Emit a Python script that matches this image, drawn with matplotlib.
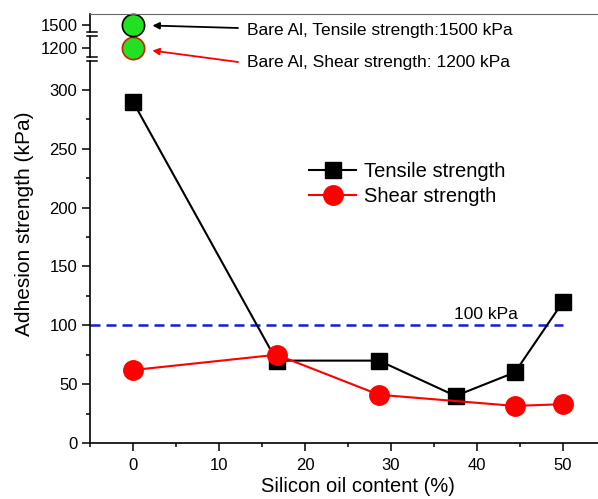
import matplotlib
matplotlib.use('Agg')
import matplotlib.pyplot as plt
from matplotlib.lines import Line2D
from matplotlib.ticker import MultipleLocator

plt.rcParams['font.family'] = ['Liberation Sans', 'DejaVu Sans']

# data
oil = [0, 16.7, 28.6, 37.5, 44.4, 50]
tensile = [290, 70, 70, 40, 60, 120]
oil_shear = [0, 16.7, 28.6, 44.4, 50]
shear = [62, 75, 41, 31.5, 33]
bare_x = 0
bare_tensile = 1500
bare_shear = 1200
limit = 100

W, H = 598, 499
fig = plt.figure(figsize=(W / 100, H / 100), dpi=100)


def box(top, bottom):
    # axes rect from pixel rows (measured from the top)
    return [90 / W, (H - bottom) / H, 516 / W, (bottom - top) / H]


ax = fig.add_axes(box(61, 443))
ax_mid = fig.add_axes(box(36, 57), sharex=ax)
ax_top = fig.add_axes(box(14, 32), sharex=ax)
for a in (ax, ax_mid, ax_top):
    a.patch.set_alpha(0)

ax.set_xlim(-5, 55)
ax.set_ylim(0, 324.6)
ax_mid.set_ylim(1110, 1320)
ax_top.set_ylim(1430, 1610)

# main series
ax.plot(oil, tensile, color='k', marker='s', ms=12, lw=1.5,
        label='Tensile strength', zorder=3)
ax.plot(oil_shear, shear, color='red', marker='o', ms=14, lw=1.5,
        label='Shear strength', zorder=4)
ax.hlines(limit, -5, 50, colors='#1a1ad8', linestyles=(0, (4, 2.4)), lw=1.8, zorder=2)
ax.text(37.3, limit + 3, '100 kPa', fontsize=12.5, va='bottom')

# bare Al points on the broken part of the axis
ax_top.plot([bare_x], [bare_tensile], 'o', ms=16, mfc='#22e022', mec='k',
            mew=1.2, clip_on=False)
ax_mid.plot([bare_x], [bare_shear], 'o', ms=16, mfc='#22e022', mec='#d02000',
            mew=1.2, clip_on=False)

ax_top.annotate('', xy=(bare_x, bare_tensile), xytext=(238 / W, 1 - 28 / H),
                textcoords='figure fraction', annotation_clip=False,
                arrowprops=dict(arrowstyle='-|>', color='k', lw=1.3,
                                mutation_scale=10, shrinkA=0, shrinkB=14))
ax_mid.annotate('', xy=(bare_x, bare_shear), xytext=(238 / W, 1 - 62 / H),
                textcoords='figure fraction', annotation_clip=False,
                arrowprops=dict(arrowstyle='-|>', color='red', lw=1.3,
                                mutation_scale=10, shrinkA=0, shrinkB=14))
fig.text(247 / W, 1 - 31 / H, 'Bare Al, Tensile strength:1500 kPa', fontsize=12.5, va='center')
fig.text(247 / W, 1 - 62 / H, 'Bare Al, Shear strength: 1200 kPa', fontsize=12.5, va='center')

# spines and ticks
ax.spines[['top', 'right']].set_visible(False)
ax_mid.spines[['top', 'right', 'bottom']].set_visible(False)
ax_top.spines[['right', 'bottom']].set_visible(False)
ax_top.spines['top'].set_color('#666666')
for a in (ax, ax_mid, ax_top):
    a.spines['left'].set_linewidth(1.2)
ax.spines['bottom'].set_linewidth(1.2)

ax.set_xticks(range(0, 51, 10))
ax.xaxis.set_minor_locator(MultipleLocator(5))
ax.set_yticks(range(0, 301, 50))
ax.yaxis.set_minor_locator(MultipleLocator(25))
ax.tick_params(which='major', direction='out', length=6, width=1.1, labelsize=12, pad=3)
ax.tick_params(which='minor', direction='out', length=3, width=1.1)
ax.tick_params(axis='x', which='major', pad=5)

ax_mid.set_yticks([bare_shear])
ax_top.set_yticks([bare_tensile])
for a in (ax_mid, ax_top):
    a.tick_params(axis='y', direction='out', length=6, width=1.1, labelsize=12, pad=3)
    a.tick_params(axis='x', which='both', bottom=False, top=False, labelbottom=False)

# break marks on the left axis
for y in (32, 36, 57, 61):
    fig.add_artist(Line2D([87 / W, 97 / W], [1 - y / H, 1 - y / H],
                          transform=fig.transFigure, color='k', lw=1.1))

ax.legend(loc='upper left', bbox_to_anchor=(309 / W, 1 - 162 / H),
          bbox_transform=fig.transFigure, frameon=False, fontsize=14.5,
          handlelength=2.35, handletextpad=0.4, labelspacing=0.3,
          borderpad=0, borderaxespad=0)

fig.text(25 / W, 1 - 224 / H, 'Adhesion strength (kPa)', rotation=90,
         ha='center', va='center', fontsize=15)
fig.text(358 / W, 1 - 487 / H, 'Silicon oil content (%)', ha='center',
         va='center', fontsize=14.5)

fig.savefig('out.png', dpi=100)
